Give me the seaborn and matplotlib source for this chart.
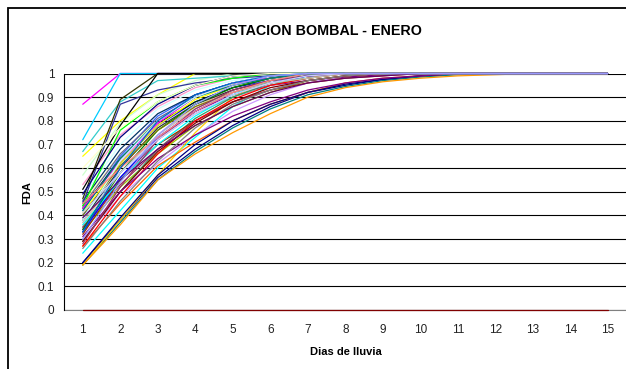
import matplotlib
matplotlib.use("Agg")
import matplotlib.pyplot as plt
from matplotlib.patches import Rectangle
import pandas as pd
import seaborn as sns

# Días de lluvia (eje X) y marcas del eje Y
dias = list(range(1, 16))
etiquetas_dias = [str(d) for d in dias]
ticks_fda = [0, 0.1, 0.2, 0.3, 0.4, 0.5, 0.6, 0.7, 0.8, 0.9, 1]
etiquetas_fda = ["0", "0.1", "0.2", "0.3", "0.4", "0.5", "0.6", "0.7", "0.8", "0.9", "1"]

# Funciones de distribución acumulada (FDA) por serie
serie_01 = [0.20, 0.38, 0.56, 0.68, 0.78, 0.86, 0.92, 0.95, 0.975, 0.99, 0.997, 1, 1, 1, 1]
serie_02 = [0.87, 1, 1, 1, 1, 1, 1, 1, 1, 1, 1, 1, 1, 1, 1]
serie_03 = [0.65, 0.80, 0.91, 1, 1, 1, 1, 1, 1, 1, 1, 1, 1, 1, 1]
serie_04 = [0.24, 0.42, 0.60, 0.73, 0.86, 0.95, 0.99, 1, 1, 1, 1, 1, 1, 1, 1]
serie_05 = [0.34, 0.55, 0.72, 0.84, 0.91, 0.95, 0.97, 0.985, 0.995, 1, 1, 1, 1, 1, 1]
serie_06 = [0, 0, 0, 0, 0, 0, 0, 0, 0, 0, 0, 0, 0, 0, 0]
serie_07 = [0.19, 0.37, 0.55, 0.67, 0.77, 0.85, 0.91, 0.945, 0.97, 0.985, 0.995, 1, 1, 1, 1]
serie_08 = [0.40, 0.62, 0.78, 0.88, 0.94, 0.97, 0.99, 1, 1, 1, 1, 1, 1, 1, 1]
serie_09 = [0.72, 1, 1, 1, 1, 1, 1, 1, 1, 1, 1, 1, 1, 1, 1]
serie_10 = [0.48, 0.70, 0.85, 0.93, 0.97, 0.99, 1, 1, 1, 1, 1, 1, 1, 1, 1]
serie_11 = [0.57, 0.79, 0.91, 0.97, 1, 1, 1, 1, 1, 1, 1, 1, 1, 1, 1]
serie_12 = [0.45, 0.66, 0.80, 0.90, 0.95, 0.98, 1, 1, 1, 1, 1, 1, 1, 1, 1]
serie_13 = [0.39, 0.58, 0.74, 0.86, 0.93, 0.97, 0.99, 1, 1, 1, 1, 1, 1, 1, 1]
serie_14 = [0.53, 0.74, 0.86, 0.94, 0.98, 1, 1, 1, 1, 1, 1, 1, 1, 1, 1]
serie_15 = [0.30, 0.48, 0.62, 0.74, 0.84, 0.91, 0.96, 0.99, 1, 1, 1, 1, 1, 1, 1]
serie_16 = [0.36, 0.58, 0.74, 0.86, 0.93, 0.97, 0.99, 1, 1, 1, 1, 1, 1, 1, 1]
serie_17 = [0.42, 0.65, 0.82, 0.91, 0.96, 0.99, 1, 1, 1, 1, 1, 1, 1, 1, 1]
serie_18 = [0.67, 0.88, 0.97, 0.98, 0.99, 1, 1, 1, 1, 1, 1, 1, 1, 1, 1]
serie_19 = [0.33, 0.52, 0.66, 0.78, 0.86, 0.92, 0.97, 0.99, 1, 1, 1, 1, 1, 1, 1]
serie_20 = [0.19, 0.38, 0.57, 0.75, 0.90, 0.97, 1, 1, 1, 1, 1, 1, 1, 1, 1]
serie_21 = [0.19, 0.36, 0.55, 0.66, 0.75, 0.83, 0.90, 0.94, 0.965, 0.98, 0.99, 0.995, 1, 1, 1]
serie_22 = [0.27, 0.45, 0.61, 0.71, 0.80, 0.87, 0.92, 0.96, 0.98, 0.99, 1, 1, 1, 1, 1]
serie_23 = [0.44, 0.66, 0.81, 0.90, 0.96, 0.99, 1, 1, 1, 1, 1, 1, 1, 1, 1]
serie_24 = [0.35, 0.56, 0.72, 0.83, 0.90, 0.95, 0.98, 1, 1, 1, 1, 1, 1, 1, 1]
serie_25 = [0.46, 0.68, 0.83, 0.91, 0.96, 0.98, 1, 1, 1, 1, 1, 1, 1, 1, 1]
serie_26 = [0.29, 0.50, 0.68, 0.81, 0.90, 0.96, 0.99, 1, 1, 1, 1, 1, 1, 1, 1]
serie_27 = [0.43, 0.64, 0.79, 0.88, 0.94, 0.98, 1, 1, 1, 1, 1, 1, 1, 1, 1]
serie_28 = [0.47, 0.89, 1, 1, 1, 1, 1, 1, 1, 1, 1, 1, 1, 1, 1]
serie_29 = [0.32, 0.55, 0.70, 0.80, 0.88, 0.93, 0.96, 0.98, 0.99, 1, 1, 1, 1, 1, 1]
serie_30 = [0.35, 0.53, 0.68, 0.80, 0.88, 0.93, 0.97, 0.99, 1, 1, 1, 1, 1, 1, 1]
serie_31 = [0.45, 0.87, 0.93, 0.96, 0.98, 0.99, 1, 1, 1, 1, 1, 1, 1, 1, 1]
serie_32 = [0.38, 0.60, 0.77, 0.87, 0.93, 0.97, 0.99, 1, 1, 1, 1, 1, 1, 1, 1]
serie_33 = [0.51, 0.78, 1, 1, 1, 1, 1, 1, 1, 1, 1, 1, 1, 1, 1]
serie_34 = [0.27, 0.48, 0.66, 0.80, 0.89, 0.95, 0.98, 1, 1, 1, 1, 1, 1, 1, 1]
serie_35 = [0.44, 0.76, 0.88, 0.95, 0.98, 1, 1, 1, 1, 1, 1, 1, 1, 1, 1]
serie_36 = [0.33, 0.56, 0.73, 0.84, 0.92, 0.96, 0.99, 1, 1, 1, 1, 1, 1, 1, 1]
serie_37 = [0.41, 0.62, 0.78, 0.89, 0.95, 0.98, 1, 1, 1, 1, 1, 1, 1, 1, 1]
serie_38 = [0.43, 0.63, 0.79, 0.90, 0.96, 0.98, 1, 1, 1, 1, 1, 1, 1, 1, 1]
serie_39 = [0.36, 0.55, 0.70, 0.82, 0.91, 0.97, 1, 1, 1, 1, 1, 1, 1, 1, 1]
serie_40 = [0.29, 0.50, 0.67, 0.79, 0.88, 0.94, 0.97, 0.99, 1, 1, 1, 1, 1, 1, 1]
serie_41 = [0.34, 0.58, 0.76, 0.87, 0.94, 0.98, 1, 1, 1, 1, 1, 1, 1, 1, 1]
serie_42 = [0.20, 0.39, 0.57, 0.70, 0.80, 0.87, 0.92, 0.955, 0.975, 0.99, 1, 1, 1, 1, 1]
serie_43 = [0.40, 0.61, 0.76, 0.86, 0.92, 0.96, 0.98, 1, 1, 1, 1, 1, 1, 1, 1]
serie_44 = [0.31, 0.50, 0.64, 0.74, 0.82, 0.88, 0.93, 0.96, 0.98, 0.99, 1, 1, 1, 1, 1]
serie_45 = [0.42, 0.64, 0.80, 0.90, 0.95, 0.98, 1, 1, 1, 1, 1, 1, 1, 1, 1]
serie_46 = [0.37, 0.58, 0.74, 0.85, 0.92, 0.96, 0.98, 1, 1, 1, 1, 1, 1, 1, 1]
serie_47 = [0.26, 0.46, 0.63, 0.77, 0.87, 0.93, 0.97, 0.99, 1, 1, 1, 1, 1, 1, 1]
serie_48 = [0.49, 0.73, 0.87, 0.95, 0.99, 1, 1, 1, 1, 1, 1, 1, 1, 1, 1]
serie_49 = [0.28, 0.52, 0.72, 0.85, 0.93, 0.97, 0.99, 1, 1, 1, 1, 1, 1, 1, 1]
serie_50 = [0.60, 0.77, 0.88, 0.95, 0.99, 1, 1, 1, 1, 1, 1, 1, 1, 1, 1]
serie_51 = [0.38, 0.63, 0.80, 0.90, 0.96, 0.99, 1, 1, 1, 1, 1, 1, 1, 1, 1]
serie_52 = [0.39, 0.55, 0.68, 0.78, 0.86, 0.92, 0.96, 0.98, 0.99, 1, 1, 1, 1, 1, 1]
serie_53 = [0.45, 0.60, 0.73, 0.84, 0.92, 0.97, 1, 1, 1, 1, 1, 1, 1, 1, 1]
serie_54 = [0.33, 0.60, 0.80, 0.91, 0.96, 0.99, 1, 1, 1, 1, 1, 1, 1, 1, 1]
serie_55 = [0.41, 0.58, 0.72, 0.83, 0.91, 0.96, 0.99, 1, 1, 1, 1, 1, 1, 1, 1]
serie_56 = [0.30, 0.54, 0.74, 0.87, 0.95, 0.99, 1, 1, 1, 1, 1, 1, 1, 1, 1]

series = [
    serie_01, serie_02, serie_03, serie_04, serie_05, serie_06, serie_07, serie_08,
    serie_09, serie_10, serie_11, serie_12, serie_13, serie_14, serie_15, serie_16,
    serie_17, serie_18, serie_19, serie_20, serie_21, serie_22, serie_23, serie_24,
    serie_25, serie_26, serie_27, serie_28, serie_29, serie_30, serie_31, serie_32,
    serie_33, serie_34, serie_35, serie_36, serie_37, serie_38, serie_39, serie_40,
    serie_41, serie_42, serie_43, serie_44, serie_45, serie_46, serie_47, serie_48,
    serie_49, serie_50, serie_51, serie_52, serie_53, serie_54, serie_55, serie_56,
]

# Colores de línea en el orden clásico de las hojas de cálculo
colores = [
    "#000080", "#FF00FF", "#FFFF00", "#00FFFF", "#800080", "#800000", "#008080", "#0000FF",
    "#00CCFF", "#CCFFFF", "#CCFFCC", "#FFFF99", "#99CCFF", "#FF99CC", "#CC99FF", "#FFCC99",
    "#3366FF", "#33CCCC", "#99CC00", "#FFCC00", "#FF9900", "#FF6600", "#666699", "#969696",
    "#003366", "#339966", "#003300", "#333300", "#993300", "#993366", "#333399", "#333333",
    "#000000", "#FF0000", "#00FF00", "#0000FF", "#FFFF00", "#FF00FF", "#00FFFF", "#800000",
    "#008000", "#000080", "#808000", "#800080", "#008080", "#C0C0C0", "#808080", "#000080",
    "#993366", "#FFFFCC", "#CCFFFF", "#660066", "#FF8080", "#0066CC", "#CCCCFF", "#9999FF",
]

nombres = [f"S{i + 1:02d}" for i in range(len(series))]
filas = []
for nombre, valores in zip(nombres, series):
    for d, v in zip(dias, valores):
        filas.append({"serie": nombre, "dia": d, "fda": v})
df = pd.DataFrame(filas)

sns.set_style("white")
plt.rcParams["font.family"] = ["Liberation Sans", "DejaVu Sans"]

W, H = 626, 369
fig = plt.figure(figsize=(W / 100, H / 100), dpi=100)
fig.patch.set_facecolor("white")

# Área de trazado
x0, y_top, y_bot, x1 = 64, 73.5, 310, 626.5
ax = fig.add_axes([x0 / W, (H - y_bot) / H, (x1 - x0) / W, (y_bot - y_top) / H])
ax.set_facecolor("white")

sns.lineplot(
    data=df, x="dia", y="fda", hue="serie", hue_order=nombres,
    palette=colores, legend=False, ax=ax, linewidth=0.9,
    estimator=None, sort=False,
)
for ln in ax.lines:
    ln.set_clip_on(False)
    ln.set_zorder(3)

ax.set_xlim(0.5, 15.5)
ax.set_ylim(0, 1)

# Cuadrícula horizontal
ax.set_yticks(ticks_fda)
ax.set_yticklabels(etiquetas_fda)
ax.set_axisbelow(True)
ax.yaxis.grid(True, color="black", linewidth=0.8)
ax.xaxis.grid(False)

# Eje de categorías: etiquetas centradas y marcas entre categorías
ax.set_xticks(dias)
ax.set_xticklabels(etiquetas_dias)
ax.set_xticks([d + 0.5 for d in range(0, 16)], minor=True)
ax.tick_params(axis="x", which="major", length=0, pad=10, labelsize=8.5, colors="#222222")
ax.tick_params(axis="x", which="minor", length=4, width=0.8, direction="out", color="#333333")
ax.tick_params(axis="y", which="major", length=4, width=0.8, direction="out", pad=3,
               labelsize=8.5, colors="#222222")

for s in ("top", "right"):
    ax.spines[s].set_visible(False)
ax.spines["left"].set_color("black")
ax.spines["left"].set_linewidth(0.8)
ax.spines["bottom"].set_color("#808080")
ax.spines["bottom"].set_linewidth(0.8)
ax.spines["bottom"].set_zorder(1)

ax.set_xlabel("")
ax.set_ylabel("")

# Textos del gráfico
fig.text(320 / W, 1 - 31 / H, "ESTACION BOMBAL - ENERO", ha="center", va="center",
         fontsize=10.3, fontweight="bold", color="black")
fig.text(346 / W, 1 - 352 / H, "Dias de lluvia", ha="center", va="center",
         fontsize=8, fontweight="bold", color="black")
fig.text(27 / W, 1 - 193 / H, "FDA", ha="center", va="center", rotation=90,
         fontsize=8, fontweight="bold", color="black")

# Marco del área del gráfico
fig.patches.append(Rectangle((8 / W, -0.1), 1.2, 1.1 - 8 / H, transform=fig.transFigure,
                             fill=False, edgecolor="black", linewidth=1.3))

fig.savefig("out.png", dpi=100)
